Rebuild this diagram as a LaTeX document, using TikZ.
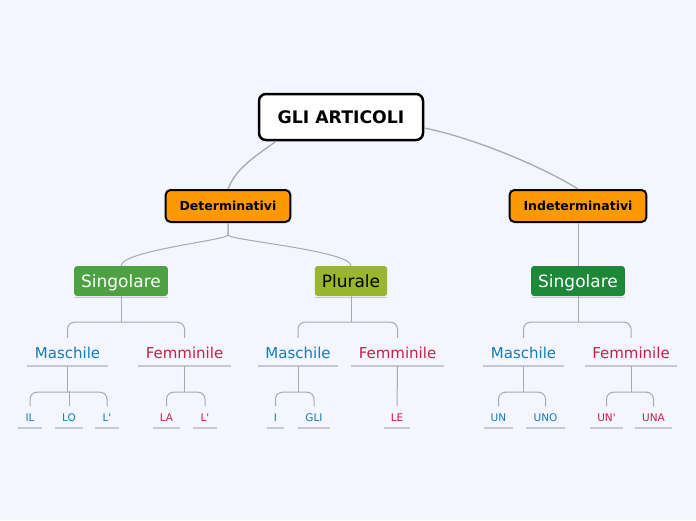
\documentclass[tikz,border=0pt]{standalone}
\usepackage{fontspec}
\setmainfont{DejaVu Sans}
\definecolor{bgblue}{RGB}{243,246,254}
\definecolor{linegray}{RGB}{168,168,176}
\definecolor{ulgray}{RGB}{200,201,208}
\definecolor{orangebox}{RGB}{255,153,0}
\definecolor{leafgreen}{RGB}{77,161,66}
\definecolor{olivebox}{RGB}{154,181,46}
\definecolor{darkgreen}{RGB}{28,136,56}
\definecolor{mblue}{RGB}{23,122,187}
\definecolor{fred}{RGB}{204,29,69}

\begin{document}
\begin{tikzpicture}[x=1pt, y=-1pt,
  every node/.style={inner sep=0pt},
  rootbox/.style={draw=black, line width=2.5pt, fill=white, rounded corners=7pt,
    minimum width=164pt, minimum height=46pt, text height=15pt, text depth=2.5pt,
    font=\fontsize{17.3}{20}\selectfont\bfseries},
  typebox/.style={draw=black, line width=2pt, fill=orangebox, rounded corners=5pt,
    minimum height=32pt, inner xsep=14pt, text height=11pt, text depth=1.9pt,
    font=\fontsize{12.5}{15}\selectfont\bfseries},
  numbox/.style={rounded corners=3pt, minimum height=30pt, inner xsep=7pt,
    text height=15pt, text depth=2.6pt, font=\fontsize{17}{20}\selectfont},
  gender/.style={anchor=base, inner xsep=7.5pt, inner ysep=5pt,
    text height=10pt, text depth=3pt, font=\fontsize{15}{18}\selectfont},
  leaf/.style={anchor=base, inner xsep=7pt, inner ysep=5pt,
    text height=7.5pt, text depth=2pt, font=\fontsize{10.5}{12}\selectfont},
  masc/.style={text=mblue},
  fem/.style={text=fred},
  conn/.style={draw=linegray, line width=1pt},
  uline/.style={draw=ulgray, line width=1.5pt}
]
\fill[bgblue] (0,0) rectangle (696,520);

% main boxes
\node[rootbox] (root) at (341,117) {GLI ARTICOLI};
\node[typebox] (det) at (228,206) {Determinativi};
\node[typebox] (indet) at (578,206) {Indeterminativi};
\node[numbox, fill=leafgreen, text=white] (singd) at (121,281) {Singolare};
\node[numbox, fill=olivebox] (plur) at (351,281) {Plurale};
\node[numbox, fill=darkgreen, text=white] (singi) at (578,281) {Singolare};

% genders
\node[gender, masc] (msd) at (67.5,358) {Maschile};
\node[gender, fem] (fsd) at (184.5,358) {Femminile};
\node[gender, masc] (mpl) at (298,358) {Maschile};
\node[gender, fem] (fpl) at (397.5,358) {Femminile};
\node[gender, masc] (msi) at (523.5,358) {Maschile};
\node[gender, fem] (fsi) at (631,358) {Femminile};

% articles
\node[leaf, masc] (il) at (30,421) {IL};
\node[leaf, masc] (lo) at (69,421) {LO};
\node[leaf, masc] (lm) at (107,421) {L\textquotesingle};
\node[leaf, fem] (la) at (166.5,421) {LA};
\node[leaf, fem] (lf) at (205,421) {L\textquotesingle};
\node[leaf, masc] (i) at (275.5,421) {I};
\node[leaf, masc] (gli) at (314,421) {GLI};
\node[leaf, fem] (le) at (397,421) {LE};
\node[leaf, masc] (un) at (498.5,421) {UN};
\node[leaf, masc] (uno) at (545.5,421) {UNO};
\node[leaf, fem] (unf) at (606.5,421) {UN\textquotesingle};
\node[leaf, fem] (una) at (653.5,421) {UNA};

\foreach \n in {msd,fsd,mpl,fpl,msi,fsi,il,lo,lm,la,lf,i,gli,le,un,uno,unf,una}
  \draw[uline] (\n.south west) -- (\n.south east);
\foreach \n in {singd,plur,singi}
  \draw[uline, line width=1pt] ([yshift=-1pt]\n.south west) -- ([yshift=-1pt]\n.south east);

% connectors
\draw[conn, line width=1.3pt] ([xshift=-65pt]root.south) .. controls +(-25,18) and +(8,-20) .. (det.north);
\draw[conn, line width=1.3pt] ([yshift=-11pt]root.east) .. controls +(50,10) and +(-35,-22) .. (indet.north);
\draw[conn] (det.south) -- ++(0,12) .. controls +(0,5) and +(0,-15) .. (singd.north);
\draw[conn] (det.south) -- ++(0,12) .. controls +(0,5) and +(0,-15) .. (plur.north);
\draw[conn] (indet.south) -- (singi.north);

\foreach \p/\m/\f in {singd/msd/fsd, plur/mpl/fpl, singi/msi/fsi} {
  \draw[conn] (\p.south) -- ++(0,26);
  \draw[conn, rounded corners=7pt] ([yshift=5pt]\m.north) |- ([yshift=-26pt]\p.south)
    -| ([yshift=5pt]\f.north);
}
\foreach \p/\a/\b in {msd/il/lm, fsd/la/lf, mpl/i/gli, msi/un/uno, fsi/unf/una} {
  \draw[conn] (\p.south) -- ++(0,26);
  \draw[conn, rounded corners=7pt] ([yshift=2pt]\a.north) |- ([yshift=-26pt]\p.south)
    -| ([yshift=2pt]\b.north);
}
\draw[conn] ([yshift=2pt]lo.north) -- ++(0,-15);
\draw[conn] (fpl.south) -- ([yshift=2pt]le.north);
\end{tikzpicture}
\end{document}
